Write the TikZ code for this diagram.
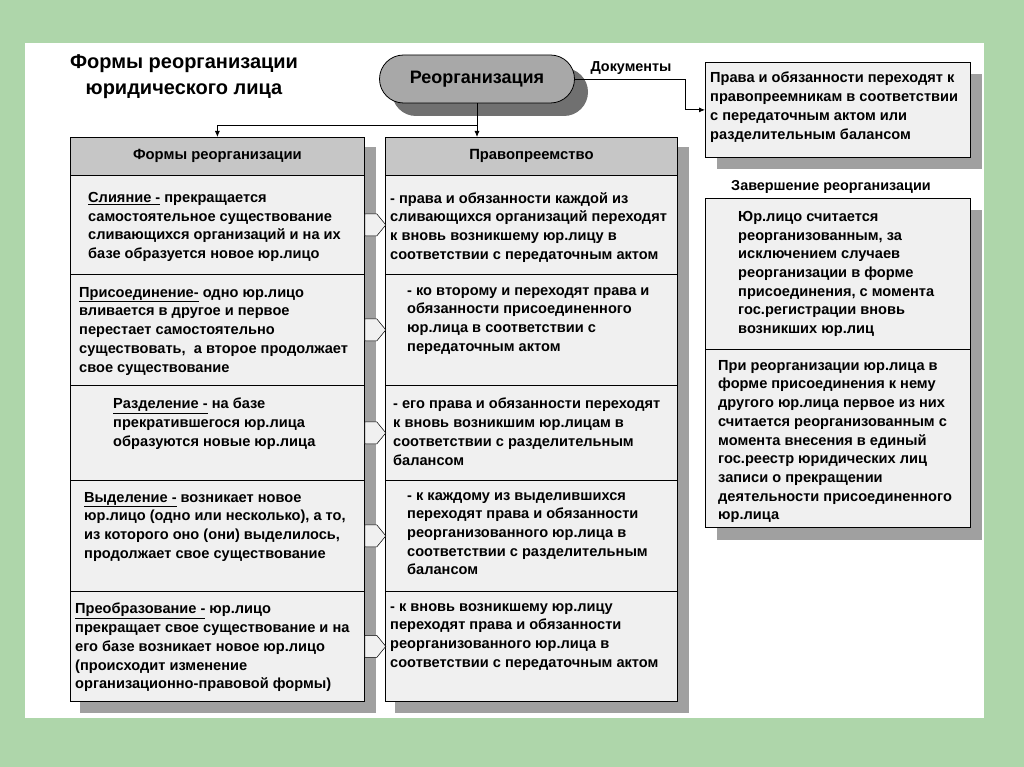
\documentclass[tikz,border=0pt]{standalone}
\usepackage{fontspec}
\setmainfont{Liberation Sans}
\usetikzlibrary{arrows.meta}
\definecolor{bggreen}{RGB}{174,214,170}
\definecolor{boxfill}{RGB}{240,240,240}
\definecolor{hdrfill}{RGB}{198,198,198}
\definecolor{shd}{RGB}{160,160,160}
\definecolor{nodefill}{RGB}{168,168,168}
\definecolor{nodeshd}{RGB}{112,112,112}
\begin{document}
\begin{tikzpicture}[x=1pt,y=-1pt,
  box/.style={draw=black,line width=0.8pt,fill=boxfill,anchor=north west,inner sep=0pt},
  hdr/.style={box,fill=hdrfill,font=\bfseries\fontsize{14.8}{16}\selectfont},
  shadow/.style={fill=shd,draw=none},
  txt/.style={anchor=north west,align=left,inner sep=0pt,font=\bfseries\fontsize{14.6}{18.7}\selectfont},
  lbl/.style={inner sep=0pt,font=\bfseries\fontsize{14.4}{16}\selectfont},
  conn/.style={draw=black,line width=0.8pt},
  arr/.style={conn,-{Latex[length=6pt,width=5pt]}},
  ptr/.style={draw=black,line width=0.5pt,fill=boxfill}
]
\useasboundingbox (0,0) rectangle (1024,767);
% background
\fill[bggreen] (0,0) rectangle (1024,767);
\fill[white] (25,43) rectangle (984,718);

% title
\node[inner sep=0pt,align=center,font=\bfseries\fontsize{20}{26}\selectfont] (title) at (184,77)
  {Формы реорганизации\\юридического лица};

% Reorganization node
\fill[nodeshd,rounded corners=24pt] (392,68) rectangle (588,116);
\node[draw=black,line width=0.8pt,fill=nodefill,rounded corners=24pt,minimum width=195pt,minimum height=48pt,
  font=\bfseries\fontsize{18}{20}\selectfont] (reorg) at (477,79) {Реорганизация};

% shadows
\fill[shadow] (80,147) rectangle (376,713);
\fill[shadow] (395,147) rectangle (689,713);
\fill[shadow] (717,74) rectangle (982,169);
\fill[shadow] (717,210) rectangle (982,540);

% left column
\node[hdr,minimum width=294pt,minimum height=38pt] (h1) at (70,137) {Формы реорганизации};
\node[box,minimum width=294pt,minimum height=99pt] (l1) at (70,175) {};
\node[box,minimum width=294pt,minimum height=111pt] (l2) at (70,274) {};
\node[box,minimum width=294pt,minimum height=95pt] (l3) at (70,385) {};
\node[box,minimum width=294pt,minimum height=111pt] (l4) at (70,480) {};
\node[box,minimum width=294pt,minimum height=110pt] (l5) at (70,591) {};

% right column
\node[hdr,minimum width=292pt,minimum height=38pt] (h2) at (385,137) {Правопреемство};
\node[box,minimum width=292pt,minimum height=99pt] (r1) at (385,175) {};
\node[box,minimum width=292pt,minimum height=111pt] (r2) at (385,274) {};
\node[box,minimum width=292pt,minimum height=95pt] (r3) at (385,385) {};
\node[box,minimum width=292pt,minimum height=111pt] (r4) at (385,480) {};
\node[box,minimum width=292pt,minimum height=110pt] (r5) at (385,591) {};

% pointers
\foreach \n in {l1,l2,l3,l4,l5}{
  \filldraw[ptr] ([yshift=11pt]\n.east) -- ++(12,0) -- ++(9,11) -- ++(-9,11) -- ++(-12,0) -- cycle;
}

% right boxes
\node[box,minimum width=265pt,minimum height=95pt] (rbox) at (705,62) {};
\node[box,minimum width=265pt,minimum height=151pt] (c1) at (705,198) {};
\node[box,minimum width=265pt,minimum height=178pt] (c2) at (705,349) {};

% texts
\node[txt] (tl1) at (88,192) {\underline{Слияние -} прекращается\\самостоятельное существование\\сливающихся организаций и на их\\базе образуется новое юр.лицо};
\node[txt] (tl2) at (79,287) {\underline{Присоединение-} одно юр.лицо\\вливается в другое и первое\\перестает самостоятельно\\существовать,\ \ а второе продолжает\\свое существование};
\node[txt] (tl3) at (113,398) {\underline{Разделение -} на базе\\прекратившегося юр.лица\\образуются новые юр.лица};
\node[txt] (tl4) at (84,492) {\underline{Выделение -} возникает новое\\юр.лицо (одно или несколько), а то,\\из которого оно (они) выделилось,\\продолжает свое существование};
\node[txt] (tl5) at (75,603) {\underline{Преобразование -} юр.лицо\\прекращает свое существование и на\\его базе возникает новое юр.лицо\\(происходит изменение\\организационно-правовой формы)};

\node[txt] (tr1) at (390,192) {- права и обязанности каждой из\\сливающихся организаций переходят\\к вновь возникшему юр.лицу в\\соответствии с передаточным актом};
\node[txt] (tr2) at (407,287) {- ко второму и переходят права и\\обязанности присоединенного\\юр.лица в соответствии с\\передаточным актом};
\node[txt] (tr3) at (393,398) {- его права и обязанности переходят\\к вновь возникшим юр.лицам в\\соответствии с разделительным\\балансом};
\node[txt] (tr4) at (407,492) {- к каждому из выделившихся\\переходят права и обязанности\\реорганизованного юр.лица в\\соответствии с разделительным\\балансом};
\node[txt] (tr5) at (390,603) {- к вновь возникшему юр.лицу\\переходят права и обязанности\\реорганизованного юр.лица в\\соответствии с передаточным актом};

\node[txt] (trb) at (710,72) {Права и обязанности переходят к\\правопреемникам в соответствии\\с передаточным актом или\\разделительным балансом};
\node[txt] (tc1) at (738,211) {Юр.лицо считается\\реорганизованным, за\\исключением случаев\\реорганизации в форме\\присоединения, с момента\\гос.регистрации вновь\\возникших юр.лиц};
\node[txt] (tc2) at (718,360) {При реорганизации юр.лица в\\форме присоединения к нему\\другого юр.лица первое из них\\считается реорганизованным с\\момента внесения в единый\\гос.реестр юридических лиц\\записи о прекращении\\деятельности присоединенного\\юр.лица};

\node[lbl] (docs) at (631,68) {Документы};
\node[lbl] (fin) at (831,187) {Завершение реорганизации};

% connectors
\coordinate (j) at (reorg.south |- 0,125);
\draw[arr] (reorg.south) -- (reorg.south |- h2.north);
\draw[arr] (j) -| (h1.north);
\draw[arr] (reorg.east) -- ++(110,0) |- (rbox.west);
\end{tikzpicture}
\end{document}
